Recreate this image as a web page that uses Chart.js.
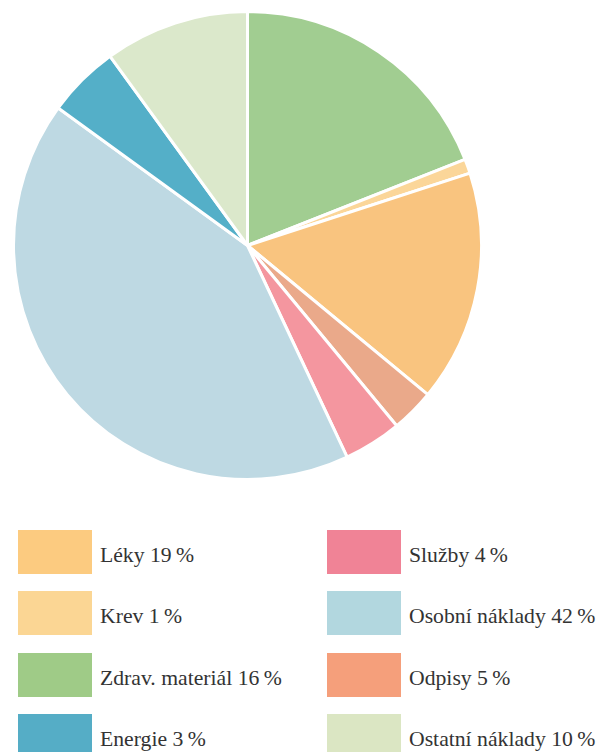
<!DOCTYPE html>
<html>
<head>
<meta charset="utf-8">
<script src="https://cdn.jsdelivr.net/npm/chart.js@4/dist/chart.umd.min.js"></script>
<style>
    body { margin: 0; background: #fff; width: 602px; height: 752px; overflow: hidden; position: relative; }
    #pieBox { position: absolute; left: 12px; top: 10px; width: 471px; height: 471px; }
    .item { position: absolute; height: 44px; font-family: "Liberation Serif", serif; font-size: 21.7px; color: #333; }
    .item span.sw { position: absolute; left: 0; top: 0; width: 74px; height: 44px; }
    .item span.tx { position: absolute; left: 82px; top: 13px; white-space: nowrap; line-height: 24px; }
</style>
</head>
<body>
<div id="pieBox"><canvas id="pieChart"></canvas></div>
<div id="legend"></div>
<script>
/** slices in the order they are drawn, clockwise from the top */
const sliceValues = [19, 1, 16, 3, 4, 42, 5, 10];
const sliceColors = ['#a1cd91', '#fbd699', '#f9c47f', '#eaa98a', '#f4969f', '#bed9e3', '#54afc8', '#dbe8cb'];

/** legend as printed under the chart */
const legendLabels = ['Léky', 'Krev', 'Zdrav. materiál', 'Energie', 'Služby', 'Osobní náklady', 'Odpisy', 'Ostatní náklady'];
const legendPercents = [19, 1, 16, 3, 4, 42, 5, 10];
const legendColors = ['#fccb80', '#fbd694', '#9fcb87', '#55adc6', '#f08396', '#b2d7df', '#f59f7b', '#dbe6c3'];

const ctx = document.getElementById('pieChart').getContext('2d');
const pieChart = new Chart(ctx, {
    type: 'pie',
    data: {
        labels: legendLabels,
        datasets: [{
            data: sliceValues,
            backgroundColor: sliceColors,
            borderColor: '#ffffff',
            borderWidth: 3,
            hoverOffset: 0
        }]
    },
    options: {
        responsive: true,
        maintainAspectRatio: false,
        animation: false,
        plugins: {
            legend: { display: false },
            tooltip: { enabled: false }
        }
    }
});

function buildLegend() {
    let space = document.getElementById('legend');
    for (let i = 0; i < legendLabels.length; i++) {
        let col = Math.floor(i / 4);
        let row = i % 4;
        let item = document.createElement('div');
        item.classList.add('item');
        item.style.left = (col === 0 ? 18 : 327) + 'px';
        item.style.top = (530 + row * 61.3) + 'px';
        item.innerHTML = `<span class="sw" style="background:${legendColors[i]}"></span>`;
        item.innerHTML += `<span class="tx">${legendLabels[i]} ${legendPercents[i]}\u202F%</span>`;
        space.appendChild(item);
    }
}

buildLegend();
</script>
</body>
</html>
